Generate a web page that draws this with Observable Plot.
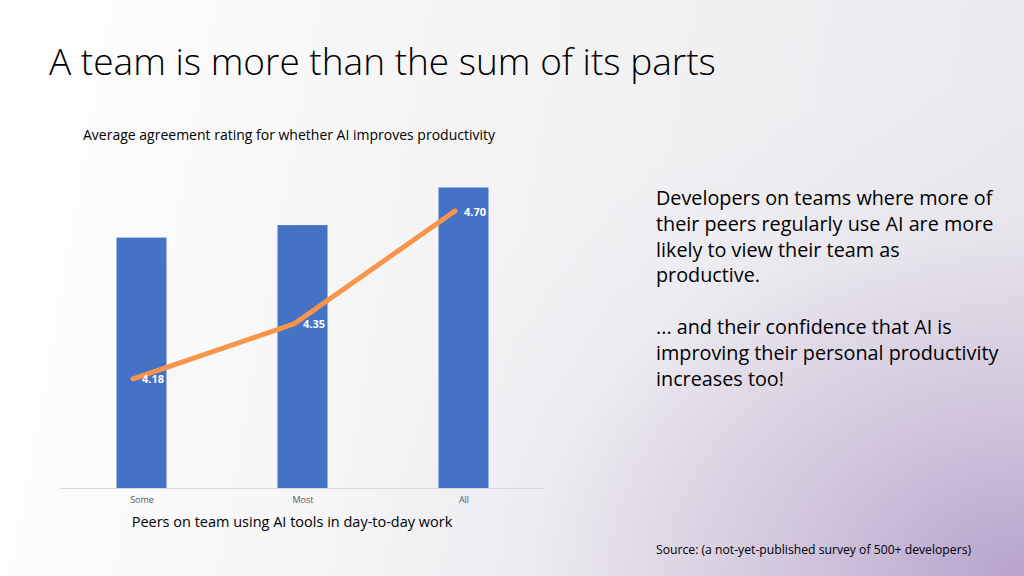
<!DOCTYPE html>
<html>
<head>
<meta charset="utf-8">
<script src="https://cdn.jsdelivr.net/npm/d3@7"></script>
<script src="https://cdn.jsdelivr.net/npm/@observablehq/plot@0.6"></script>
<style>
  html, body { margin: 0; padding: 0; }
  body {
    width: 1024px; height: 576px; position: relative; overflow: hidden;
    font-family: "Segoe UI", "Open Sans", "Noto Sans", sans-serif;
    color: #000;
    background:
      radial-gradient(ellipse 75% 95% at 100% 100%, rgba(184,163,204,1) 0%, rgba(200,185,215,0.75) 30%, rgba(225,220,232,0.25) 65%, rgba(235,233,240,0) 90%),
      linear-gradient(100deg, #ffffff 0%, #f6f6f7 35%, #e9e8ed 100%);
  }
  .abs { position: absolute; white-space: nowrap; }
  #title { left: 49px; top: 35px; font-size: 37px; font-weight: 300; letter-spacing: 0px; font-family: "Segoe UI Light", "Open Sans", sans-serif; }
  #subtitle { left: 83px; top: 125px; font-size: 14px; }
  #xlabel { left: 292px; top: 512px; font-size: 14.5px; transform: translateX(-50%); }
  #note { left: 656px; top: 185px; font-size: 19.8px; line-height: 25.8px; }
  #source { left: 656px; top: 541px; font-size: 12.2px; }
  #chart { left: 0; top: 150px; }
</style>
</head>
<body>
<div id="title" class="abs">A team is more than the sum of its parts</div>
<div id="subtitle" class="abs">Average agreement rating for whether AI improves productivity</div>
<div id="chart" class="abs"></div>
<div id="xlabel" class="abs">Peers on team using AI tools in day-to-day work</div>
<div id="note" class="abs">Developers on teams where more of<br>their peers regularly use AI are more<br>likely to view their team as<br>productive.<br><br>... and their confidence that AI is<br>improving their personal productivity<br>increases too!</div>
<div id="source" class="abs">Source: (a not-yet-published survey of 500+ developers)</div>
<script>
// Data
const categories = ["Some", "Most", "All"];
const teamProductivity = [4.0, 4.2, 4.8];        // bars (estimated, no labels shown)
const aiAgreement = [4.18, 4.35, 4.70];          // line (labelled)

// secondary axis domain for the line, mapped onto the bar axis [0, 5]
const barDomain = [0, 5];
const lineDomain = [3.84, 4.81];
const toBarScale = d3.scaleLinear().domain(lineDomain).range(barDomain);

const bars = categories.map((c, i) => ({cat: c, value: teamProductivity[i]}));
const line = categories.map((c, i) => ({cat: c, value: aiAgreement[i], y: toBarScale(aiAgreement[i])}));

const chart = Plot.plot({
  width: 560,
  height: 380,
  marginLeft: 60,
  marginRight: 16,
  marginTop: 25,
  marginBottom: 42,
  style: {background: "transparent", fontFamily: "'Segoe UI', 'Open Sans', sans-serif"},
  x: {domain: categories, padding: 0, label: null},
  y: {domain: barDomain, axis: null},
  marks: [
    Plot.barY(bars, {x: "cat", y: "value", fill: "#4472C4", insetLeft: 55.5, insetRight: 55.5}),
    Plot.ruleY([0], {stroke: "#d9d9d9", strokeWidth: 1}),
    Plot.axisX({tickSize: 0, tickPadding: 8, fontSize: 9, color: "#595959", label: null}),
    Plot.line(line, {x: "cat", y: "y", stroke: "#F9944A", strokeWidth: 5, strokeLinecap: "round", strokeLinejoin: "round", dx: -9}),
    Plot.text(line, {x: "cat", y: "y", text: d => d.value.toFixed(2), textAnchor: "start", dx: 0, dy: 1, fill: "white", fontWeight: "bold", fontSize: 11})
  ]
});
document.getElementById("chart").appendChild(chart);
</script>
</body>
</html>
